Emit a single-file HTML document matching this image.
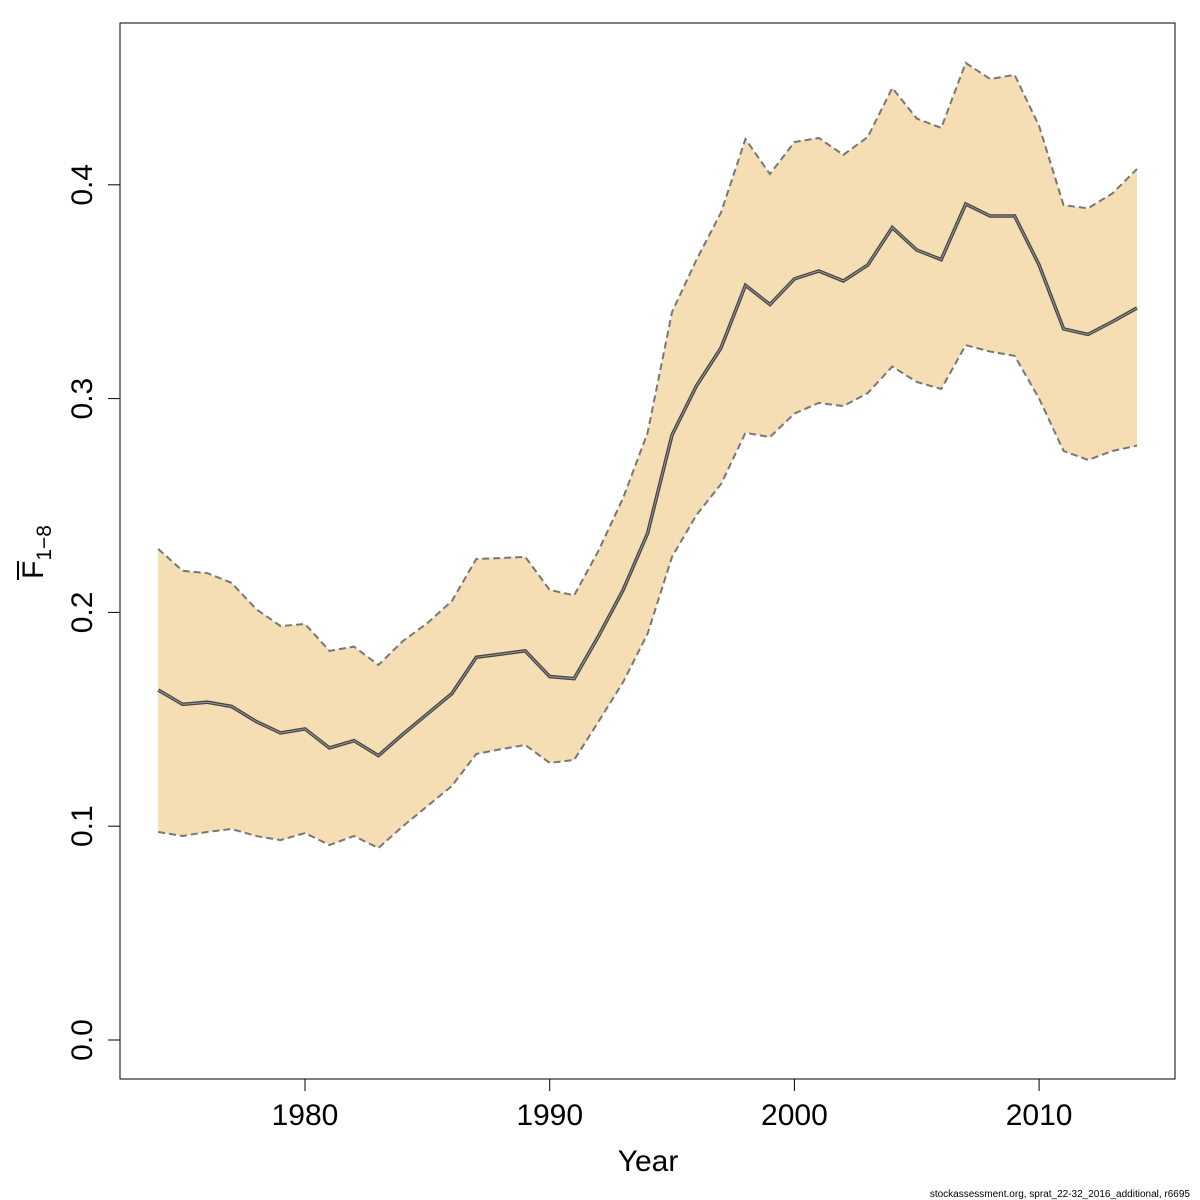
<!DOCTYPE html>
<html><head><meta charset="utf-8"><style>
html,body{margin:0;padding:0;background:#fff;}
svg{display:block;font-family:"Liberation Sans","DejaVu Sans",sans-serif;}
</style></head><body>
<svg id="chart" width="1200" height="1200" viewBox="0 0 1200 1200" xmlns="http://www.w3.org/2000/svg">
<g id="bandg"></g>
<g id="lineg"></g>
<rect x="120" y="23" width="1055" height="1056" fill="none" stroke="#000" stroke-width="1"/>
<g id="axes"></g>
<text x="648" y="1171" font-size="30" text-anchor="middle">Year</text>
<g transform="translate(43,552) rotate(-90)">
<text x="0" y="0" font-size="30" text-anchor="middle">F<tspan font-size="21" dy="8">1−8</tspan></text>
<line x1="-28" y1="-25" x2="-9" y2="-25" stroke="#000" stroke-width="2"/>
</g>
<text x="1190" y="1197" font-size="10" text-anchor="end">stockassessment.org, sprat_22-32_2016_additional, r6695</text>
</svg>
<script>
const years=[1974,1975,1976,1977,1978,1979,1980,1981,1982,1983,1984,1985,1986,1987,1988,1989,1990,1991,1992,1993,1994,1995,1996,1997,1998,1999,2000,2001,2002,2003,2004,2005,2006,2007,2008,2009,2010,2011,2012,2013,2014];
const meanF=[0.1637,0.157,0.158,0.156,0.149,0.1436,0.1455,0.1366,0.14,0.133,0.143,0.1525,0.162,0.179,0.1805,0.182,0.17,0.169,0.189,0.2105,0.237,0.283,0.306,0.3237,0.353,0.344,0.356,0.3597,0.355,0.3625,0.38,0.3695,0.365,0.391,0.3854,0.3854,0.3625,0.3326,0.33,0.336,0.3424];
const upperF=[0.2297,0.2194,0.2184,0.2138,0.2016,0.1936,0.1946,0.182,0.184,0.1754,0.1866,0.195,0.2053,0.225,0.2254,0.226,0.2105,0.208,0.229,0.2535,0.284,0.3405,0.365,0.387,0.4214,0.405,0.42,0.4219,0.414,0.4224,0.4453,0.431,0.4266,0.457,0.4495,0.4514,0.4275,0.3905,0.389,0.396,0.4074];
const lowerF=[0.0973,0.0954,0.0973,0.0987,0.0954,0.0935,0.0968,0.0912,0.0954,0.0898,0.1,0.1094,0.1188,0.1338,0.136,0.138,0.1296,0.131,0.149,0.1674,0.19,0.226,0.2456,0.26,0.284,0.282,0.293,0.298,0.2965,0.3026,0.315,0.3078,0.3045,0.325,0.322,0.32,0.3,0.2755,0.2713,0.2755,0.278];
const xTicks=[1980,1990,2000,2010];
const yTicks=[0.0,0.1,0.2,0.3,0.4];
const yTickLabels=["0.0","0.1","0.2","0.3","0.4"];

const NS="http://www.w3.org/2000/svg";
function xs(v){return 305+(v-1980)*24.47;}
function ys(v){return 1040-v*2138;}
function mk(tag,parent,attrs){const e=document.createElementNS(NS,tag);for(const k in attrs)e.setAttribute(k,attrs[k]);parent.appendChild(e);return e;}
const bandg=document.getElementById('bandg'),lineg=document.getElementById('lineg'),axes=document.getElementById('axes');

let up=years.map((y,i)=>xs(y)+','+ys(upperF[i]));
let lo=years.map((y,i)=>xs(y)+','+ys(lowerF[i])).reverse();
const band=mk('polygon',bandg,{points:up.concat(lo).join(' '),fill:'#f5deb3',stroke:'none'});


const ul=mk('polyline',lineg,{points:up.join(' '),fill:'none',stroke:'#777','stroke-width':2,'stroke-dasharray':'7,4'});


const ll=mk('polyline',lineg,{points:years.map((y,i)=>xs(y)+','+ys(lowerF[i])).join(' '),fill:'none',stroke:'#777','stroke-width':2,'stroke-dasharray':'7,4'});


const ml=mk('polyline',lineg,{points:years.map((y,i)=>xs(y)+','+ys(meanF[i])).join(' '),fill:'none',stroke:'#444','stroke-width':3.5});


const ml2=mk('polyline',lineg,{points:years.map((y,i)=>xs(y)+','+ys(meanF[i])).join(' '),fill:'none',stroke:'#999','stroke-width':1});



xTicks.forEach(t=>{
 const l=mk('line',axes,{x1:xs(t),x2:xs(t),y1:1079,y2:1091,stroke:'#000'});
 
 
 const tx=mk('text',axes,{x:xs(t),y:1125,'font-size':30,'text-anchor':'middle'});
 tx.textContent=t;
 
 
});
yTicks.forEach((t,i)=>{
 const l=mk('line',axes,{x1:108,x2:120,y1:ys(t),y2:ys(t),stroke:'#000'});
 
 
 const tx=mk('text',axes,{x:0,y:0,'font-size':30,'text-anchor':'middle',transform:'translate(92,'+ys(t)+') rotate(-90)'});
 tx.textContent=yTickLabels[i];
 
 
});
</script>
</body></html>
